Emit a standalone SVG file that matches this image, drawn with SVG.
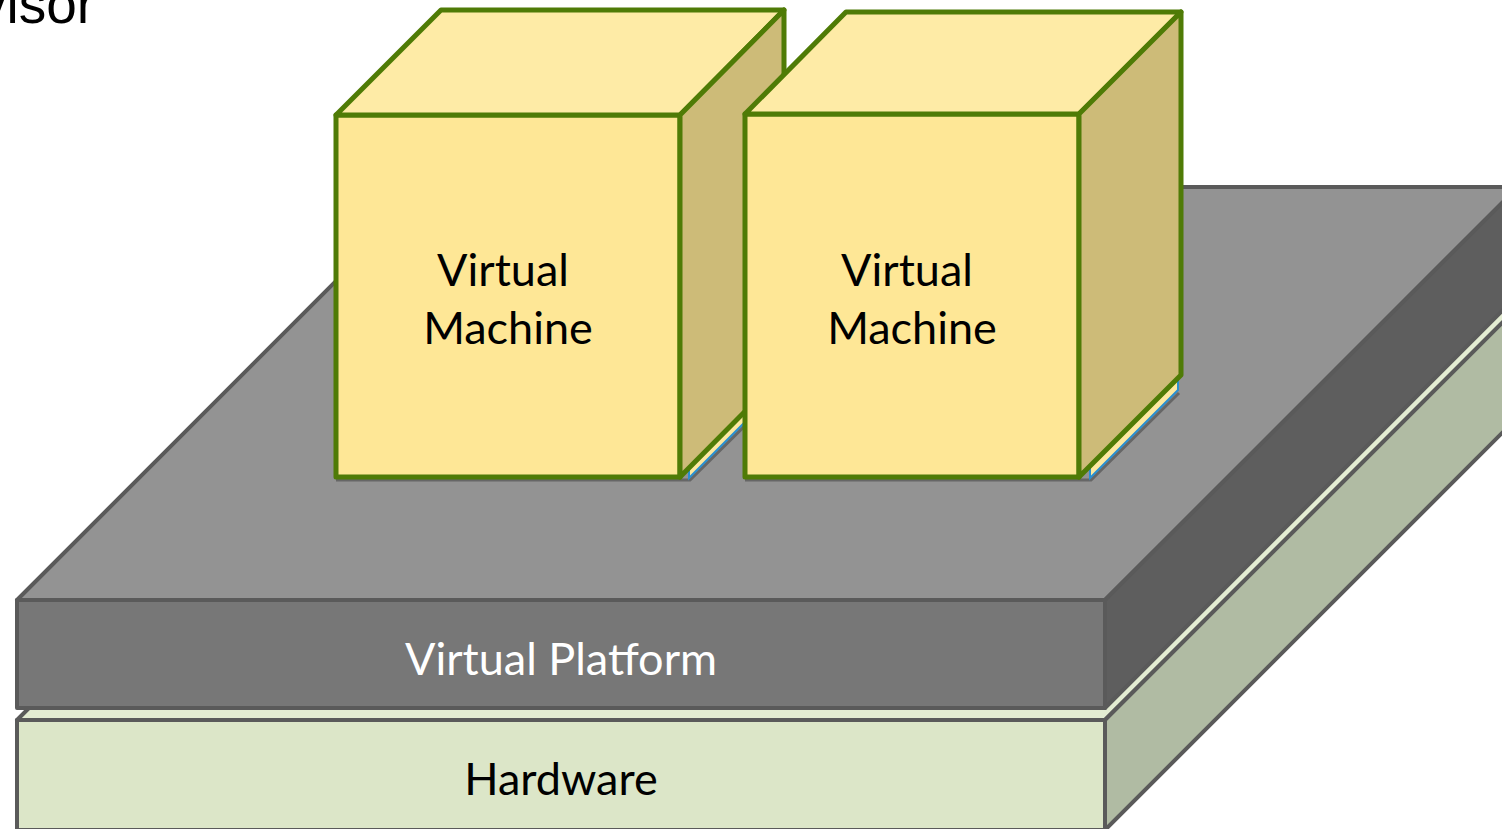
<svg xmlns="http://www.w3.org/2000/svg" width="1502" height="829" viewBox="0 0 1502 829">
<style>
.gs{stroke:#5a5a5a;stroke-width:4;stroke-linejoin:round}
.vm{stroke:#4f7b06;stroke-width:5;stroke-linejoin:round}
.vf{fill:#fee796}.vt{fill:#feeba6}.vr{fill:#cdbb78}
.lbl{font-family:Lato,"Open Sans","DejaVu Sans",sans-serif;font-size:45px;text-anchor:middle}
.blue{fill:#fde9a0;stroke:#2a8fd0;stroke-width:2}
.shd{fill:none;stroke:#666;stroke-width:3}
</style>
<rect width="1502" height="829" fill="#fff"/>
<text x="-21" y="23" font-family="Liberation Sans,Arial,sans-serif" font-size="55" fill="#000">visor</text>
<g id="hardware">
<polygon class="gs" points="17,720 1105,720 1518,307 430,307" fill="#e3ecd2"/>
<polygon class="gs" points="1105,720 1518,307 1518,417 1105,830" fill="#b0bba3"/>
<rect class="gs" x="17" y="720" width="1088" height="110" fill="#dce6c8"/>
<text class="lbl" x="561" y="795" fill="#000">Hardware</text>
</g>
<g id="platform">
<polygon class="gs" points="17,600 1105,600 1518,187 430,187" fill="#939393"/>
<polygon class="gs" points="1105,600 1518,187 1518,295 1105,708" fill="#5e5e5e"/>
<rect class="gs" x="17" y="600" width="1088" height="108" fill="#777777"/>
<text class="lbl" x="561" y="675" fill="#fff">Virtual Platform</text>
</g>
<g id="vm1">
<path class="shd" d="M336,480 H690 L786,385"/>
<path class="blue" d="M689,466 V478 L784,383 V370 Z"/>
<rect class="vm vf" x="336" y="115" width="344" height="362"/>
<polygon class="vm vt" points="336,115 441,10 784,10 680,115"/>
<polygon class="vm vr" points="680,115 784,10 784,372 680,477"/>
<text class="lbl" x="503" y="286">Virtual</text>
<text class="lbl" x="508" y="344">Machine</text>
</g>
<g id="vm2">
<path class="shd" d="M745,480 H1091 L1179,393"/>
<path class="blue" d="M1090,466 V478 L1178,390 V378 Z"/>
<rect class="vm vf" x="745" y="114" width="334" height="363"/>
<polygon class="vm vt" points="745,114 846,12 1181,12 1079,114"/>
<polygon class="vm vr" points="1079,114 1181,12 1181,375 1079,477"/>
<text class="lbl" x="907" y="286">Virtual</text>
<text class="lbl" x="912" y="344">Machine</text>
</g>
<g id="connectors"></g>
</svg>
